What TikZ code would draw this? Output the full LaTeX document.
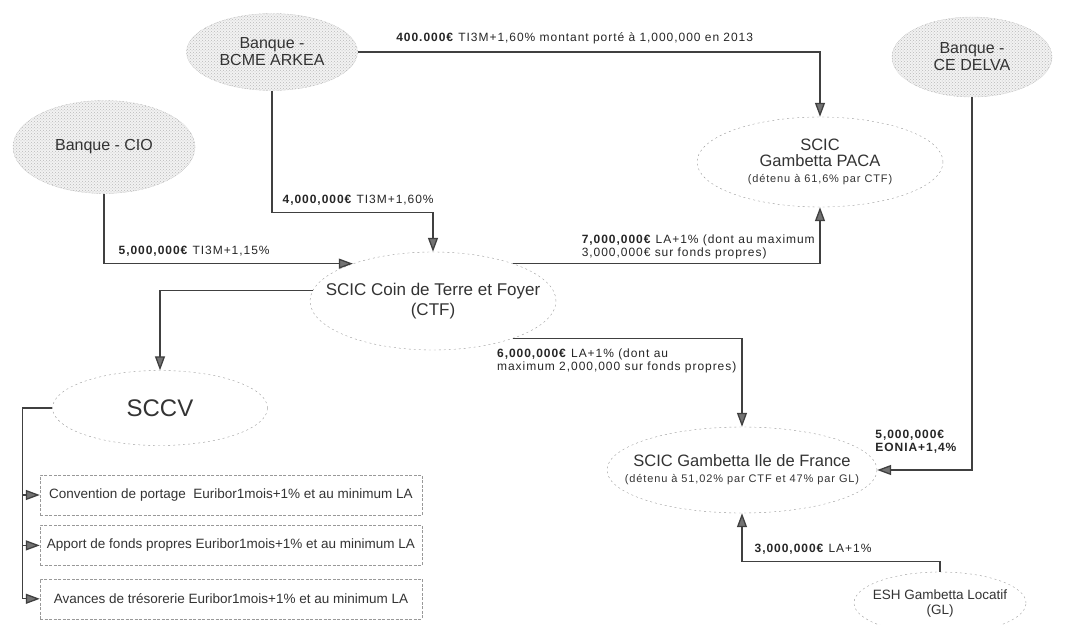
\documentclass[tikz,border=0pt]{standalone}
\usepackage{fontspec}
\setmainfont{Liberation Sans}
\newfontfamily\lblfont[LetterSpace=8]{Liberation Sans}
\usetikzlibrary{arrows.meta,shapes.geometric,positioning,patterns}

\begin{document}
\begin{tikzpicture}[x=1pt, y=-1pt, >={Triangle[length=14pt,width=10pt,fill=black!55]},
    line/.style={draw=black!75, line width=1.3pt},
    bank/.style={ellipse, draw=gray!80, densely dotted, fill=gray!10, postaction={pattern=crosshatch dots, pattern color=gray!55}, inner sep=0pt, align=center, text=black!80, font=\fontsize{16}{17}\selectfont},
    entity/.style={ellipse, draw=gray!80, dash pattern=on 2pt off 3pt, inner sep=0pt, align=center, text=black!80, font=\fontsize{16.5}{16}\selectfont},
    loanbox/.style={rectangle, draw=gray!80, dash pattern=on 3pt off 1.5pt, minimum width=382pt, minimum height=40pt, text=black!80, font=\fontsize{13.5}{15}\selectfont},
    rate/.style={inner sep=2pt, align=left, text=black!85, font=\lblfont\fontsize{12}{13}\selectfont}]

    \useasboundingbox (0,0) rectangle (1065,624);

    \node[bank, minimum width=171pt, minimum height=77pt] (bcme) at (272,52) {Banque -\\BCME ARKEA};
    \node[bank, minimum width=182pt, minimum height=93pt] (cio) at (104,147) {Banque - CIO};
    \node[bank, minimum width=160pt, minimum height=80pt] (delva) at (972,57) {Banque -\\CE DELVA};

    \node[entity, minimum width=246pt, minimum height=90pt] (paca) at (820,162) {SCIC\\Gambetta PACA\\{\lblfont\fontsize{11}{13}\selectfont (détenu à 61,6\% par CTF)}};
    \node[entity, minimum width=246pt, minimum height=98pt, inner xsep=-24pt, font=\fontsize{17}{20}\selectfont] (ctf) at (433,301) {SCIC Coin de Terre et Foyer\\(CTF)};
    \node[entity, minimum width=215pt, minimum height=75pt, font=\fontsize{24}{26}\selectfont] (sccv) at (160,408) {SCCV};
    \node[entity, minimum width=270pt, minimum height=86pt, inner xsep=-26pt] (idf) at (742,470) {SCIC Gambetta Ile de France\\{\lblfont\fontsize{11}{13}\selectfont (détenu à 51,02\% par CTF et 47\% par GL)}};
    \node[entity, minimum width=172pt, minimum height=62pt, inner xsep=-8pt, font=\fontsize{13.5}{15}\selectfont] (gl) at (940,603) {ESH Gambetta Locatif\\(GL)};

    \node[loanbox] (conv) at (231,495) {Convention de portage~ Euribor1mois+1\% et au minimum LA};
    \node[loanbox, below=10pt of conv] (apport) {Apport de fonds propres Euribor1mois+1\% et au minimum LA};
    \node[loanbox, below=13pt of apport] (avance) {Avances de trésorerie Euribor1mois+1\% et au minimum LA};

    \draw[line, ->] (bcme.east) -| node[rate, pos=0, anchor=south west, xshift=36pt, yshift=5pt] {\textbf{400.000€} TI3M+1,60\% montant porté à 1,000,000 en 2013} (paca.north);
    \draw[line, ->] (bcme.south) -- ++(0,122) -| node[rate, pos=0, anchor=south west, xshift=8pt, yshift=5pt] {\textbf{4,000,000€} TI3M+1,60\%} (ctf.north);
    \draw[line, ->] (cio.south) |- node[rate, pos=0.5, anchor=south west, xshift=12pt, yshift=5pt] {\textbf{5,000,000€} TI3M+1,15\%} (ctf.155);
    \draw[line, ->] (ctf.25) -| node[rate, pos=0, anchor=south west, xshift=66pt, yshift=2pt] {\textbf{7,000,000€} LA+1\% (dont au maximum\\3,000,000€ sur fonds propres)} (paca.south);
    \draw[line, ->] (ctf.175) -| (sccv.north);
    \draw[line, ->] (ctf.-25) -| node[rate, pos=0.5, anchor=north east, xshift=-3pt, yshift=-8pt] {\textbf{6,000,000€} LA+1\% (dont au\\maximum 2,000,000 sur fonds propres)} (idf.north);
    \draw[line, ->] (delva.south) |- node[rate, pos=0.5, anchor=south east, xshift=-12pt, yshift=14pt] {\textbf{5,000,000€}\\\textbf{EONIA+1,4\%}} (idf.east);
    \draw[line, ->] (gl.north) -- ++(0,-10) -| node[rate, pos=0.5, anchor=south west, xshift=10pt, yshift=5pt] {\textbf{3,000,000€} LA+1\%} (idf.south);

    \draw[line] (sccv.west) -- ++(-30,0) coordinate (trunk);
    \draw[line, ->] (trunk) |- (conv.west);
    \draw[line, ->] (trunk) |- (apport.west);
    \draw[line, ->] (trunk) |- (avance.west);

\end{tikzpicture}
\end{document}
